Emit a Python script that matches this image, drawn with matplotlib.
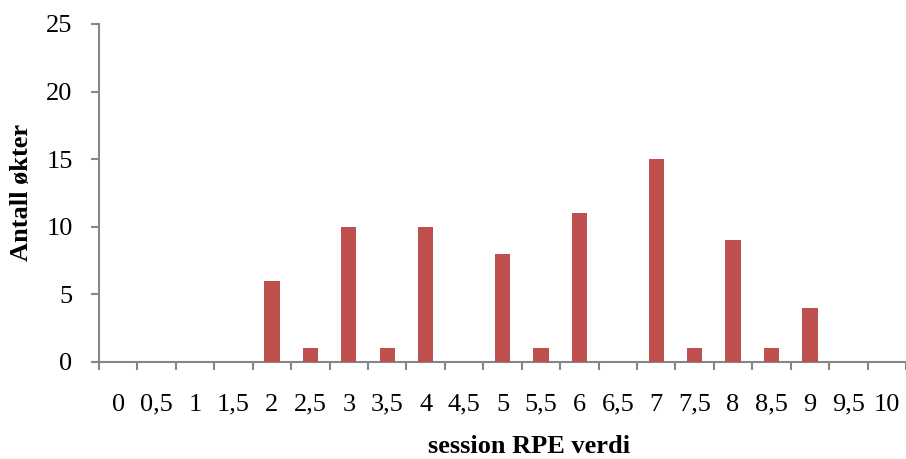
import matplotlib
matplotlib.use("Agg")
import matplotlib.pyplot as plt
import numpy as np

categories = ["0", "0,5", "1", "1,5", "2", "2,5", "3", "3,5", "4", "4,5", "5",
              "5,5", "6", "6,5", "7", "7,5", "8", "8,5", "9", "9,5", "10"]
values = [0, 0, 0, 0, 6, 1, 10, 1, 10, 0, 8, 1, 11, 0, 15, 1, 9, 1, 4, 0, 0]
yticks = [0, 5, 10, 15, 20, 25]

plt.rcParams['font.family'] = ['Liberation Serif', 'DejaVu Serif']

fig = plt.figure(figsize=(9.06, 4.59), dpi=100)
W, H = 906, 459
ax = fig.add_axes([99 / W, (H - 362) / H, (906 - 99) / W, (362 - 24) / H])

x = np.arange(len(categories))
ax.bar(x, values, width=0.4, color="#C0504D", zorder=3)

ax.set_xlim(-0.5, len(categories) - 0.5)
ax.set_ylim(0, 25)
ax.set_yticks(yticks)
ax.set_yticklabels([str(v) for v in yticks], fontsize=19)

ax.set_xticks(x)
ax.set_xticklabels(categories, fontsize=19)
ax.set_xticks(np.arange(-0.5, len(categories)), minor=True)

axis_col = "#868686"
for s in ["top", "right"]:
    ax.spines[s].set_visible(False)
for s in ["left", "bottom"]:
    ax.spines[s].set_color(axis_col)
    ax.spines[s].set_linewidth(1.5)

ax.tick_params(axis="x", which="major", length=0, pad=23)
ax.tick_params(axis="x", which="minor", length=6, width=1.5, color=axis_col, direction="out")
ax.tick_params(axis="y", which="major", length=6, width=1.5, color=axis_col, direction="out", pad=13)

fig.text(529 / W, 1 - 453 / H, "session RPE verdi", fontsize=19, fontweight="bold",
         ha="center", va="baseline")
fig.text(22 / W, 1 - 192 / H, "Antall økter", fontsize=19, fontweight="bold",
         ha="center", va="center", rotation=90)

fig.savefig("out.png", dpi=100)
